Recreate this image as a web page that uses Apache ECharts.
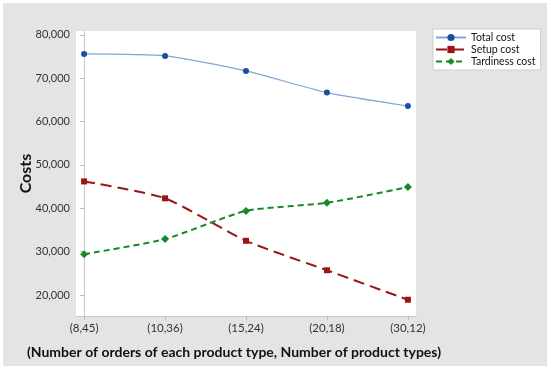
<!DOCTYPE html>
<html><head><meta charset="utf-8">
<script src="https://cdn.jsdelivr.net/npm/echarts@6/dist/echarts.min.js"></script>
<style>
html,body{margin:0;padding:0;background:#fff;}
#c{position:absolute;left:3px;top:3px;width:544px;height:363px;background:#e4e4e4;}
</style></head><body>
<div id="c"></div>
<script>
var categories = ['(8,45)', '(10,36)', '(15,24)', '(20,18)', '(30,12)'];
var totalCost = [75600, 75150, 71700, 66700, 63600];
var setupCost = [46200, 42300, 32500, 25700, 18900];
var tardinessCost = [29400, 32900, 39400, 41250, 44900];
var yTicks = [20000, 30000, 40000, 50000, 60000, 70000, 80000];
var xTitle = '(Number of orders of each product type, Number of product types)';
var yTitle = 'Costs';

function pts(arr){ return arr.map(function(v,i){ return [i, v]; }); }
var font = 'Lato';
var chart = echarts.init(document.getElementById('c'), null, {renderer:'canvas'});
chart.setOption({
  animation:false,
  backgroundColor:'#e4e4e4',
  textStyle:{fontFamily:font},
  grid:{left:73, top:28, right:131, bottom:50, show:true, backgroundColor:'#fff', borderWidth:0,
        containLabel:false, outerBoundsMode:'none'},
  legend:{
    orient:'vertical', left:430, top:26,
    backgroundColor:'#fff', borderColor:'#cfcfcf', borderWidth:1,
    padding:[3,5,3,2], itemGap:1, itemWidth:30, itemHeight:9,
    textStyle:{fontSize:10.5, color:'#111', fontFamily:font},
    data:['Total cost','Setup cost','Tardiness cost']
  },
  xAxis:{
    type:'value', min:-0.1, max:4.1,
    splitLine:{show:false},
    axisLine:{show:true, lineStyle:{color:'#c8c8c8'}},
    axisTick:{show:true, customValues:[0,1,2,3,4], length:4, lineStyle:{color:'#bbb'}},
    axisLabel:{customValues:[0,1,2,3,4], fontSize:11.5, color:'#333', margin:6,
      formatter:function(v){ return categories[Math.round(v)]; }},
    name:xTitle, nameLocation:'middle', nameGap:29, nameMoveOverlap:false,
    nameTextStyle:{fontSize:14, fontWeight:'bold', color:'#111', padding:[0,24,0,0]}
  },
  yAxis:{
    type:'value', min:15150, max:80900,
    splitLine:{show:false},
    axisLine:{show:true, lineStyle:{color:'#c8c8c8'}},
    axisTick:{show:true, customValues:yTicks, length:4, lineStyle:{color:'#bbb'}},
    axisLabel:{customValues:yTicks, fontSize:11, color:'#333', margin:6,
      formatter:function(v){ return v.toLocaleString('en-US'); }},
    name:yTitle, nameLocation:'middle', nameGap:42, nameMoveOverlap:false,
    nameTextStyle:{fontSize:16, fontWeight:'bold', color:'#111'}
  },
  series:[
    {name:'Total cost', type:'line', data:pts(totalCost), smooth:0.2,
     symbol:'circle', symbolSize:6,
     itemStyle:{color:'#1b4f9c'}, lineStyle:{color:'#7ea6d8', width:1.2}},
    {name:'Setup cost', type:'line', data:pts(setupCost), smooth:0.2,
     symbol:'rect', symbolSize:6,
     itemStyle:{color:'#9b1515'}, lineStyle:{color:'#9b1515', width:2, type:[11,6]}},
    {name:'Tardiness cost', type:'line', data:pts(tardinessCost), smooth:0.2,
     symbol:'diamond', symbolSize:8,
     itemStyle:{color:'#168a2a'}, lineStyle:{color:'#168a2a', width:2, type:[6,4]}}
  ]
});
</script>
</body></html>
